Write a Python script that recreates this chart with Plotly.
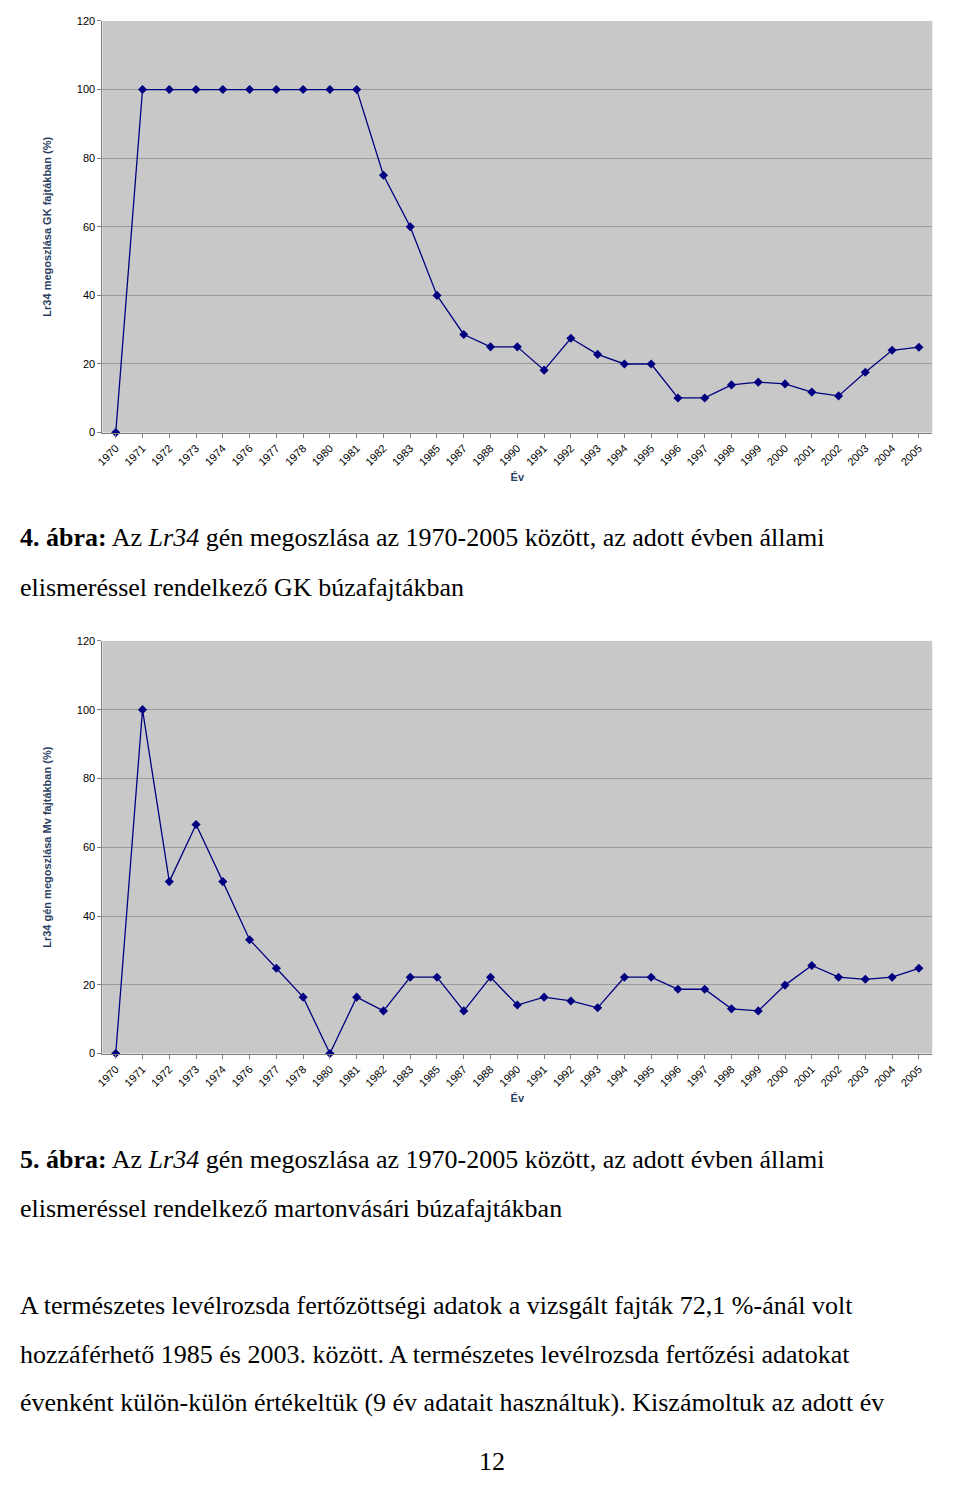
import plotly.graph_objects as go

YEARS = ["1970", "1971", "1972", "1973", "1974", "1976", "1977", "1978", "1980", "1981",
         "1982", "1983", "1985", "1987", "1988", "1990", "1991", "1992", "1993", "1994",
         "1995", "1996", "1997", "1998", "1999", "2000", "2001", "2002", "2003", "2004", "2005"]
GK = [0, 100, 100, 100, 100, 100, 100, 100, 100, 100,
      75, 60, 40, 28.6, 25, 25, 18.2, 27.5, 22.8, 20,
      20, 10.1, 10.1, 13.9, 14.7, 14.2, 11.8, 10.7, 17.6, 24, 24.9]
MV = [0, 100, 50, 66.6, 50, 33.1, 24.8, 16.4, 0, 16.4,
      12.4, 22.2, 22.2, 12.4, 22.2, 14.1, 16.4, 15.3, 13.3, 22.2,
      22.2, 18.7, 18.7, 13, 12.4, 19.9, 25.6, 22.2, 21.6, 22.2, 24.8]

W, H = 960, 1488
NAVY = "#000080"
fig = go.Figure()

for i, (vals, ytitle, top, bot) in enumerate([
        (GK, "Lr34 megoszlása GK fajtákban (%)", 7, 422),
        (MV, "Lr34 gén megoszlása Mv fajtákban (%)", 632, 1048)]):
    n = "" if i == 0 else "2"
    fig.add_trace(go.Scatter(x=YEARS, y=vals, mode="lines+markers", xaxis="x" + n, yaxis="y" + n,
                             line=dict(color=NAVY, width=1.3),
                             marker=dict(symbol="diamond", size=7, color=NAVY),
                             cliponaxis=False, showlegend=False))
    ax = dict(domain=[88 / W, 924 / W], type="category", tickangle=-45,
              tickfont=dict(family="Liberation Sans, Arial", size=11, color="black"),
              showgrid=False, showline=True, linecolor="#808080", ticks="outside",
              ticklen=4, tickcolor="#808080",
              title=dict(text="<b>Év</b>", font=dict(family="Liberation Sans, Arial", size=11), standoff=6),
              anchor="y" + n, range=[-0.5, 30.5])
    ay = dict(domain=[1 - bot / H, 1 - top / H], range=[0, 120], dtick=20,
              tickfont=dict(family="Liberation Sans, Arial", size=11, color="black"),
              gridcolor="#9a9a9a", showline=True, linecolor="#808080", zeroline=False,
              title=dict(text="<b>" + ytitle + "</b>", font=dict(family="Liberation Sans, Arial", size=11), standoff=22),
              anchor="x" + n, ticks="outside", ticklen=4, tickcolor="#808080")
    fig.update_layout({"xaxis" + n: ax, "yaxis" + n: ay})

lines = [
    (528, "<b>4. ábra:</b> Az <i>Lr34</i> gén megoszlása az 1970-2005 között, az adott évben állami"),
    (578, "elismeréssel rendelkező GK búzafajtákban"),
    (1155, "<b>5. ábra:</b> Az <i>Lr34</i> gén megoszlása az 1970-2005 között, az adott évben állami"),
    (1204, "elismeréssel rendelkező martonvásári búzafajtákban"),
    (1302, "A természetes levélrozsda fertőzöttségi adatok a vizsgált fajták 72,1 %-ánál volt"),
    (1351, "hozzáférhető 1985 és 2003. között. A természetes levélrozsda fertőzési adatokat"),
    (1400, "évenként külön-külön értékeltük (9 év adatait használtuk). Kiszámoltuk az adott év"),
]
for y, t in lines:
    fig.add_annotation(x=3 / W, y=1 - y / H, xref="paper", yref="paper", text=t, showarrow=False,
                       xanchor="left", yanchor="middle",
                       font=dict(family="Liberation Serif, Times New Roman", size=26, color="black"))
fig.add_annotation(x=480 / W, y=1 - 1476 / H, xref="paper", yref="paper", text="12", showarrow=False,
                   font=dict(family="Liberation Serif, Times New Roman", size=26, color="black"))

fig.update_layout(width=W, height=H, margin=dict(l=0, r=0, t=0, b=0),
                  paper_bgcolor="white", plot_bgcolor="#c8c8c8")
fig.write_html("out.html")
